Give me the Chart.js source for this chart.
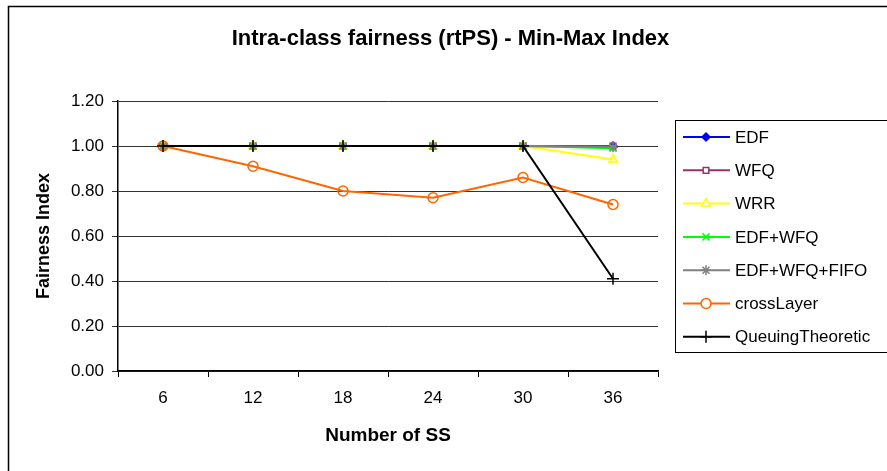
<!DOCTYPE html>
<html>
<head>
<meta charset="utf-8">
<script src="https://cdn.jsdelivr.net/npm/chart.js@4.4.0/dist/chart.umd.min.js"></script>
<style>
  html, body { margin: 0; padding: 0; background: #fff; }
  #wrap { width: 887px; height: 471px; position: relative; }
</style>
</head>
<body>
<div id="wrap"><canvas id="chart" width="887" height="471"></canvas></div>
<script>
// categories (number of SS)
const numSS = ["6", "12", "18", "24", "30", "36"]

// fairness index per scheduler
const edf = [1.0, 1.0, 1.0, 1.0, 1.0, 1.0]
const wfq = [1.0, 1.0, 1.0, 1.0, 1.0, 1.0]
const wrr = [1.0, 1.0, 1.0, 1.0, 1.0, 0.94]
const edfWfq = [1.0, 1.0, 1.0, 1.0, 1.0, 0.99]
const edfWfqFifo = [1.0, 1.0, 1.0, 1.0, 1.0, 0.995]
const crossLayer = [1.0, 0.91, 0.80, 0.77, 0.86, 0.74]
const queuing = [1.0, 1.0, 1.0, 1.0, 1.0, 0.41]

const yTicks = [0, 0.2, 0.4, 0.6, 0.8, 1.0, 1.2]

const FONT = "Arial, 'Liberation Sans', sans-serif"

function serie(label, data, color, style, filled, radius, order) {
  return {
    label: label,
    data: data,
    order: order,
    borderColor: color,
    backgroundColor: filled ? color : "#ffffff",
    pointStyle: style,
    pointRadius: radius,
    pointBorderWidth: 1.5,
    pointBorderColor: color,
    pointBackgroundColor: filled ? color : "rgba(0,0,0,0)",
    borderWidth: 2,
    tension: 0
  }
}

// later series drawn on top, like the spreadsheet
const datasets = [
  serie("EDF", edf, "#0000ff", "rectRot", true, 4, 6),
  serie("WFQ", wfq, "#993366", "rect", false, 4, 5),
  serie("WRR", wrr, "#ffff00", "triangle", false, 5, 4),
  serie("EDF+WFQ", edfWfq, "#00ff00", "crossRot", false, 5, 3),
  serie("EDF+WFQ+FIFO", edfWfqFifo, "#808080", "star", false, 5, 2),
  serie("crossLayer", crossLayer, "#ff6600", "circle", false, 5, 1),
  serie("QueuingTheoretic", queuing, "#000000", "cross", false, 6, 0)
]

// legend box, frame and full-width title placement
const excelLegend = {
  id: "excelLegend",
  afterLayout(chart) {
    const t = chart.titleBlock
    if (t) { t.left = 14; t.right = chart.width; t.width = chart.width - 14 }
  },
  afterDraw(chart) {
    const ctx = chart.ctx
    ctx.save()
    // outer chart frame (only left and top edges visible)
    ctx.strokeStyle = "#000"
    ctx.lineWidth = 1.5
    ctx.beginPath()
    ctx.moveTo(8.5, 471)
    ctx.lineTo(8.5, 6.5)
    ctx.lineTo(887, 6.5)
    ctx.stroke()

    // legend box
    const bx = 675.5, by = 120.5, bw = 215, bh = 232
    ctx.lineWidth = 1
    ctx.strokeRect(bx, by, bw, bh)

    ctx.font = "17px " + FONT
    ctx.textBaseline = "middle"
    chart.data.datasets.forEach((ds, i) => {
      const y = 137 + i * 33.3
      ctx.strokeStyle = ds.borderColor
      ctx.lineWidth = 2
      ctx.beginPath()
      ctx.moveTo(683, y)
      ctx.lineTo(730, y)
      ctx.stroke()
      ctx.lineWidth = 1.5
      ctx.fillStyle = ds.pointBackgroundColor === "rgba(0,0,0,0)" ? "#ffffff" : ds.pointBackgroundColor
      Chart.helpers.drawPoint(ctx, {
        pointStyle: ds.pointStyle,
        radius: ds.pointRadius,
        borderWidth: 1.5,
        rotation: 0
      }, 706, y)
      ctx.fillStyle = "#000"
      ctx.fillText(ds.label, 735, y + 1)
    })
    ctx.restore()
  }
}

new Chart(document.getElementById("chart").getContext("2d"), {
  type: "line",
  data: { labels: numSS, datasets: datasets },
  options: {
    responsive: false,
    animation: false,
    layout: { padding: { left: 0, right: 229, top: 0, bottom: 0 } },
    plugins: {
      legend: { display: false },
      tooltip: { enabled: false },
      title: {
        display: true,
        text: "Intra-class fairness (rtPS) - Min-Max Index",
        color: "#000",
        font: { family: FONT, size: 22, weight: "bold", lineHeight: 1.2 },
        padding: { top: 25.8, bottom: 48.8 }
      }
    },
    scales: {
      x: {
        offset: true,
        grid: {
          offset: true,
          drawOnChartArea: false,
          drawTicks: true,
          tickLength: 6,
          color: "#000"
        },
        border: { color: "#000", width: 1.5 },
        ticks: { color: "#000", font: { family: FONT, size: 17 }, padding: 11, maxRotation: 0 },
        title: {
          display: true,
          text: "Number of SS",
          color: "#000",
          font: { family: FONT, size: 19, weight: "bold", lineHeight: 1.2 },
          padding: { top: 0, bottom: 23.6 }
        },
        afterFit(s) { s.height = 100 }
      },
      y: {
        min: 0,
        max: 1.2,
        afterBuildTicks(s) { s.ticks = yTicks.map(v => ({ value: v })) },
        grid: { color: "#333", lineWidth: 1, tickLength: 6, drawTicks: true },
        border: { color: "#000", width: 1.5 },
        ticks: {
          color: "#000",
          font: { family: FONT, size: 17 },
          padding: 8,
          callback: v => Number(v).toFixed(2)
        },
        title: {
          display: true,
          text: "Fairness Index",
          color: "#000",
          font: { family: FONT, size: 18, weight: "bold", lineHeight: 1.2 },
          padding: { top: 33.7, bottom: 0 }
        },
        afterFit(s) { s.width = 118 }
      }
    }
  },
  plugins: [excelLegend]
})
</script>
</body>
</html>
